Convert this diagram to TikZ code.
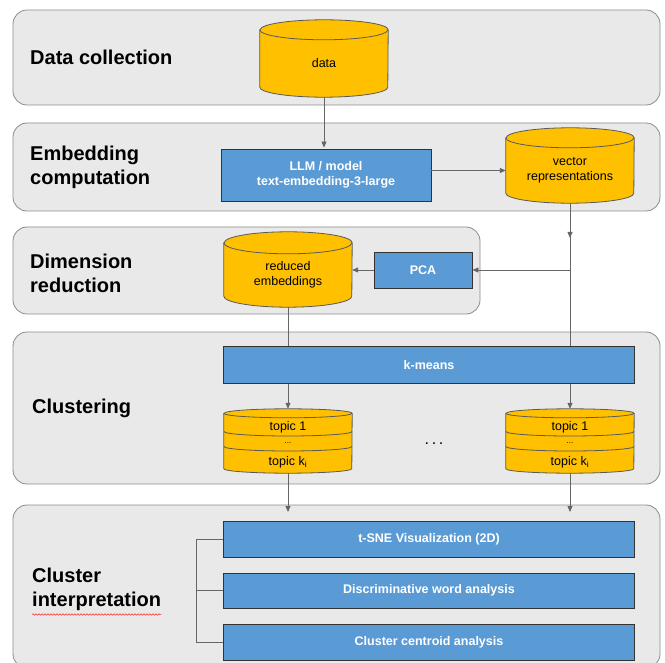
\documentclass[tikz,border=0pt]{standalone}
\usepackage{fontspec}
\setmainfont{Liberation Sans}
\usetikzlibrary{arrows.meta,decorations.pathmorphing}
\definecolor{panelfill}{HTML}{E9E9E9}
\definecolor{paneldraw}{HTML}{8C8C8C}
\definecolor{stepblue}{HTML}{5B9BD5}
\definecolor{storegold}{HTML}{FFC000}
\definecolor{wiregray}{HTML}{666666}
\pgfdeclarelayer{back}
\pgfdeclarelayer{mid}
\pgfsetlayers{back,mid,main}

% drum outline round a store node: name, half width, end radius
\newcommand\drum[3]{%
  \begin{pgfonlayer}{mid}
  \path[drumfill] (#1.north west) -- ([yshift=#3]#1.south west)
    arc[start angle=180,end angle=360,x radius=#2,y radius=#3] -- (#1.north east)
    arc[start angle=0,end angle=180,x radius=#2,y radius=#3] -- cycle;
  \draw[drumline] (#1.north west) arc[start angle=180,end angle=360,x radius=#2,y radius=#3];
  \end{pgfonlayer}}

\begin{document}
\begin{tikzpicture}[x=1pt,y=-1pt,
    panel/.style={draw=paneldraw,fill=panelfill,rounded corners=14pt,line width=0.8pt},
    phase/.style={anchor=west,align=left,inner sep=0pt,font=\fontsize{20}{24}\selectfont\bfseries},
    stepbox/.style={draw=black!80,fill=stepblue,line width=0.9pt,text=white,align=center,
        font=\fontsize{12.5}{15}\selectfont\bfseries,inner sep=0pt},
    store/.style={inner sep=0pt,align=center,minimum width=128pt,font=\fontsize{12.5}{15}\selectfont},
    drumline/.style={draw=black!65,line width=0.8pt},
    drumfill/.style={drumline,fill=storegold},
    wire/.style={draw=wiregray,line width=0.8pt},
    flow/.style={wire,-{Triangle[length=6pt,width=5pt]}}]
  \useasboundingbox (0,0) rectangle (665,663);

  % stages
  \begin{pgfonlayer}{back}
  \path[panel] (13,10) rectangle (660,105);
  \path[panel] (13,123) rectangle (660,211);
  \path[panel] (13,227) rectangle (480,314);
  \path[panel] (13,332) rectangle (660,484);
  \path[panel] (13,505) rectangle (660,668);
  \end{pgfonlayer}

  \node[phase] (collect) at (30,57) {Data collection};
  \node[phase] (embed) at (30,167) {Embedding\\computation};
  \node[phase] (reduce) at (30,273) {Dimension\\reduction};
  \node[phase] (cluster) at (32,408) {Clustering};
  \node[phase] (interp) at (32,589) {Cluster\\interpretation};
  \draw[red!85,line width=0.5pt,decorate,decoration={snake,amplitude=0.8pt,segment length=3pt}]
    ([yshift=-4pt]interp.south west) -- ([yshift=-4pt]interp.south east);

  % data and embeddings
  \node[store,minimum height=67pt] (data) at (324,63.5) {data};
  \drum{data}{64pt}{10pt}
  \node[stepbox,minimum width=210pt,minimum height=52pt] (llm) at (326,175)
    {LLM / model\\text-embedding-3-large};
  \node[store,minimum height=65pt] (vector) at (570,170.5) {vector\\representations};
  \drum{vector}{64pt}{10pt}
  \node[stepbox,minimum width=98pt,minimum height=36pt] (pca) at (423,270) {PCA};
  \node[store,minimum height=64pt] (reduced) at (288,275) {reduced\\embeddings};
  \drum{reduced}{64pt}{11pt}

  % clustering
  \node[stepbox,minimum width=411pt,minimum height=37pt] (kmeans) at (429,365) {k-means};
  \foreach \s/\x in {topicL/288,topicR/570}{
    \node[store,minimum height=59.5pt] (\s) at (\x,443.25) {};
    \drum{\s}{64pt}{4.5pt}
    \draw[drumline] (\x-64,431.5) arc[start angle=180,end angle=360,x radius=64pt,y radius=4.5pt];
    \draw[drumline] (\x-64,446.5) arc[start angle=180,end angle=360,x radius=64pt,y radius=4.5pt];
    \node[font=\fontsize{12.5}{15}\selectfont] (\s-first) at (\x,427) {topic 1};
    \node[font=\fontsize{8}{9}\selectfont] (\s-more) at (\x,443) {...};
    \node[font=\fontsize{12.5}{15}\selectfont] (\s-last) at (\x,462) {topic k\textsubscript{i}};
  }
  \node[font=\fontsize{16}{18}\selectfont] (dots) at (434,444) {.\,.\,.};

  % interpretation
  \node[stepbox,minimum width=411pt,minimum height=36pt] (tsne) at (429,539) {t-SNE Visualization (2D)};
  \node[stepbox,minimum width=411pt,minimum height=35pt] (words) at (429,590.5) {Discriminative word analysis};
  \node[stepbox,minimum width=411pt,minimum height=36pt] (centroid) at (429,642) {Cluster centroid analysis};

  \coordinate (tip) at (570,238);
  \coordinate (split) at (570,270);
  \coordinate (inL) at (288,512);
  \coordinate (inR) at (570,512);

  % connectors
  \draw[flow] (data.south) -- ([yshift=1pt]data.south |- llm.north);
  \draw[flow] (llm.east |- vector.west) -- (vector.west);
  \draw[wire] (vector.south) -- (vector.south |- kmeans.north);
  \draw[flow] (vector.south) -- (tip);
  \draw[flow] (split) -- (pca.east);
  \draw[flow] (pca.west) -- (pca.west -| reduced.east);
  \draw[wire] (reduced.south) -- (reduced.south |- kmeans.north);
  \draw[flow] (topicL.north |- kmeans.south) -- ([yshift=4.5pt]topicL.north);
  \draw[flow] (topicR.north |- kmeans.south) -- ([yshift=4.5pt]topicR.north);
  \draw[flow] (topicL.south) -- (inL);
  \draw[flow] (topicR.south) -- (inR);
  \draw[wire] (tsne.west) -- ++(-27,0) |- (centroid.west);
  \draw[wire] (words.west) -- ++(-27,0);
\end{tikzpicture}
\end{document}
